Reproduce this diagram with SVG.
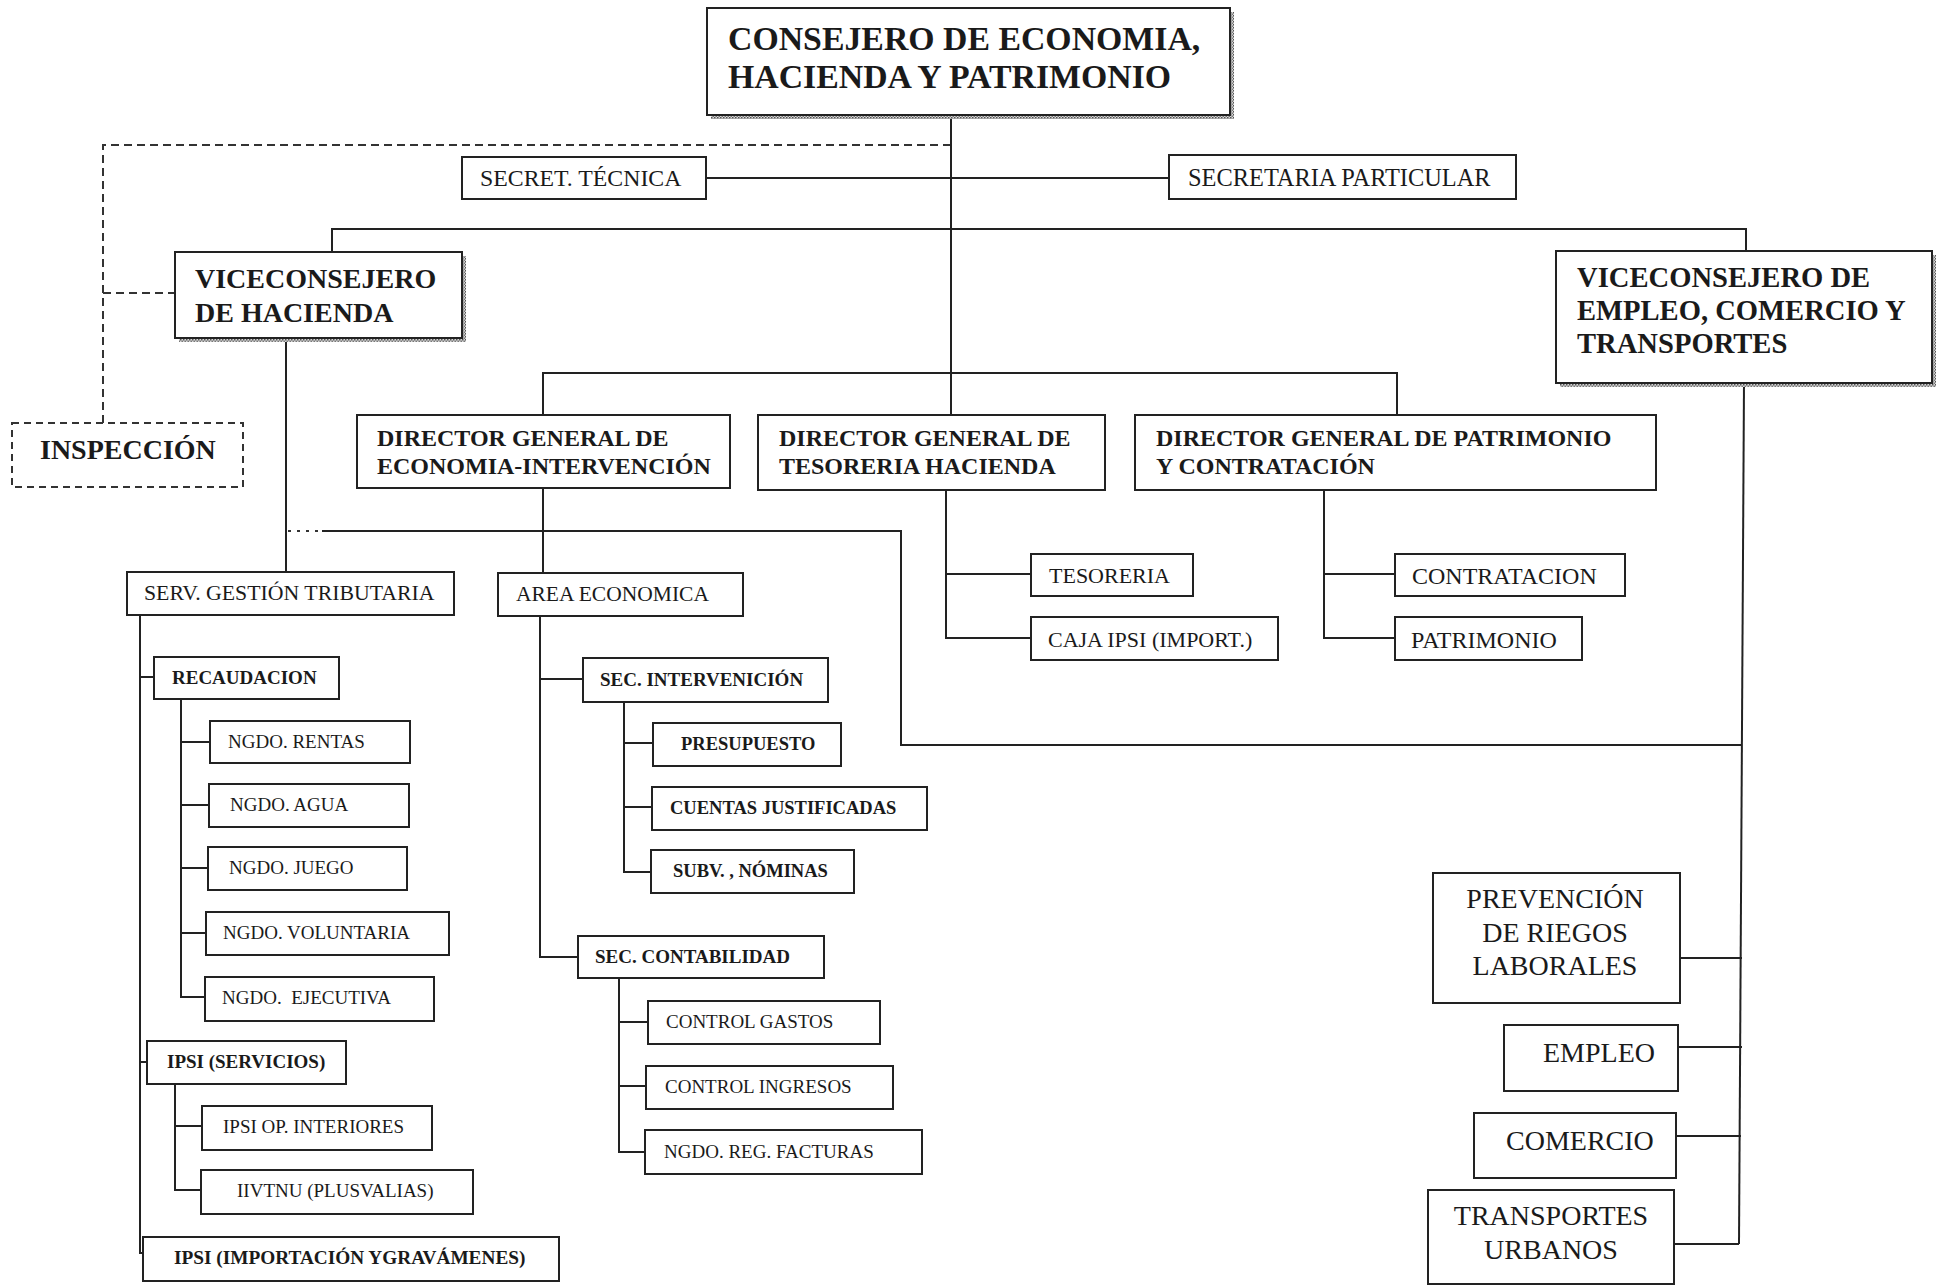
<svg xmlns="http://www.w3.org/2000/svg" width="1936" height="1287" viewBox="0 0 1936 1287">
<defs>
<pattern id="hatch" width="3" height="3" patternUnits="userSpaceOnUse">
<rect width="3" height="3" fill="#d8d8d8"/>
<rect width="1.5" height="1.5" fill="#555"/>
<rect x="1.5" y="1.5" width="1.5" height="1.5" fill="#777"/>
</pattern>
<style>
.box{fill:#fff;stroke:#222;stroke-width:2}
.dbox{fill:#fff;stroke:#333;stroke-width:2;stroke-dasharray:7 5}
.sh{fill:url(#hatch)}
.ln{stroke:#222;stroke-width:2;fill:none}
.dl{stroke:#333;stroke-width:2;fill:none;stroke-dasharray:8 5}
.dot{stroke:#333;stroke-width:2;fill:none;stroke-dasharray:3 6}
text{font-family:"Liberation Serif","Times New Roman",serif;fill:#1a1a1a}
.b{font-weight:bold}
.s19{font-size:19px}
.s22{font-size:22px}
.s24{font-size:24px}
.s28{font-size:28px}
</style>
</defs>
<rect width="1936" height="1287" fill="#fff"/>

<g id="connectors">
<path class="dl" d="M951,145 H103 V423"/>
<path class="dl" d="M103,293 H175"/>
<path class="ln" d="M951,115 V415"/>
<path class="ln" d="M706,178 H1169"/>
<path class="ln" d="M332,251 V229 H1746 V251"/>
<path class="ln" d="M543,415 V373 H1397 V415"/>
<path class="ln" d="M286,338 V572"/>
<path class="dot" d="M288,531 H322"/>
<path class="ln" d="M322,531 H901 V745 H1742"/>
<path class="ln" d="M1744,383 L1739,1244"/>
<path class="ln" d="M1680,958 H1742"/>
<path class="ln" d="M1678,1047 H1742"/>
<path class="ln" d="M1676,1136 H1741"/>
<path class="ln" d="M1674,1244 H1739"/>
<path class="ln" d="M946,490 V638 H1031"/>
<path class="ln" d="M946,574 H1031"/>
<path class="ln" d="M1324,490 V638 H1395"/>
<path class="ln" d="M1324,574 H1395"/>
<path class="ln" d="M543,488 V573"/>
<path class="ln" d="M140,615 V1253 H143"/>
<path class="ln" d="M140,677 H154"/>
<path class="ln" d="M140,1062 H147"/>
<path class="ln" d="M181,699 V997 H205"/>
<path class="ln" d="M181,742 H210"/>
<path class="ln" d="M181,805 H209"/>
<path class="ln" d="M181,868 H208"/>
<path class="ln" d="M181,933 H206"/>
<path class="ln" d="M175,1084 V1190 H201"/>
<path class="ln" d="M175,1126 H202"/>
<path class="ln" d="M540,616 V957 H578"/>
<path class="ln" d="M540,679 H583"/>
<path class="ln" d="M624,702 V872 H651"/>
<path class="ln" d="M624,743 H653"/>
<path class="ln" d="M624,807 H652"/>
<path class="ln" d="M619,978 V1152 H645"/>
<path class="ln" d="M619,1022 H648"/>
<path class="ln" d="M619,1086 H646"/>
</g>

<g id="consejero">
<rect class="sh" x="711" y="12" width="523" height="107"/>
<rect class="box" x="707" y="8" width="523" height="107"/>
<text class="b" x="728" y="50" font-size="33.8">CONSEJERO DE ECONOMIA,</text>
<text class="b" x="728" y="88" font-size="33.8">HACIENDA Y PATRIMONIO</text>
</g>
<g id="secret-tecnica">
<rect class="box" x="462" y="157" width="244" height="42"/>
<text x="480" y="186" font-size="23.8">SECRET. TÉCNICA</text>
</g>
<g id="secretaria-particular">
<rect class="box" x="1169" y="155" width="347" height="44"/>
<text x="1188" y="186" font-size="24.4">SECRETARIA PARTICULAR</text>
</g>
<g id="vice-hacienda">
<rect class="sh" x="179" y="256" width="287" height="86"/>
<rect class="box" x="175" y="252" width="287" height="86"/>
<text class="b s28" x="195" y="288">VICECONSEJERO</text>
<text class="b s28" x="195" y="322">DE HACIENDA</text>
</g>
<g id="vice-empleo">
<rect class="sh" x="1560" y="255" width="376" height="132"/>
<rect class="box" x="1556" y="251" width="376" height="132"/>
<text class="b" x="1577" y="287" font-size="28.6">VICECONSEJERO DE</text>
<text class="b" x="1577" y="320" font-size="28.6">EMPLEO, COMERCIO Y</text>
<text class="b" x="1577" y="353" font-size="28.6">TRANSPORTES</text>
</g>
<g id="inspeccion">
<rect class="dbox" x="12" y="423" width="231" height="64"/>
<text class="b s28" x="40" y="459">INSPECCIÓN</text>
</g>
<g id="dg-economia">
<rect class="box" x="357" y="415" width="373" height="73"/>
<text class="b s24" x="377" y="446">DIRECTOR GENERAL DE</text>
<text class="b s24" x="377" y="474">ECONOMIA-INTERVENCIÓN</text>
</g>
<g id="dg-tesoreria">
<rect class="box" x="758" y="415" width="347" height="75"/>
<text class="b s24" x="779" y="446">DIRECTOR GENERAL DE</text>
<text class="b s24" x="779" y="474">TESORERIA HACIENDA</text>
</g>
<g id="dg-patrimonio">
<rect class="box" x="1135" y="415" width="521" height="75"/>
<text class="b s24" x="1156" y="446">DIRECTOR GENERAL DE PATRIMONIO</text>
<text class="b s24" x="1156" y="474">Y CONTRATACIÓN</text>
</g>
<g id="tesoreria">
<rect class="box" x="1031" y="554" width="162" height="42"/>
<text class="s22" x="1049" y="583">TESORERIA</text>
</g>
<g id="caja-ipsi">
<rect class="box" x="1031" y="617" width="247" height="43"/>
<text class="s22" x="1048" y="647">CAJA IPSI (IMPORT.)</text>
</g>
<g id="contratacion">
<rect class="box" x="1395" y="554" width="230" height="42"/>
<text class="s24" x="1412" y="584">CONTRATACION</text>
</g>
<g id="patrimonio">
<rect class="box" x="1395" y="617" width="187" height="43"/>
<text class="s24" x="1411" y="648">PATRIMONIO</text>
</g>
<g id="serv-gestion">
<rect class="box" x="127" y="572" width="327" height="43"/>
<text x="144" y="600" font-size="21.8">SERV. GESTIÓN TRIBUTARIA</text>
</g>
<g id="area-economica">
<rect class="box" x="498" y="573" width="245" height="43"/>
<text x="516" y="601" font-size="21.5">AREA ECONOMICA</text>
</g>
<g id="recaudacion">
<rect class="box" x="154" y="657" width="185" height="42"/>
<text class="b s19" x="172" y="684">RECAUDACION</text>
</g>
<g id="ngdo-rentas">
<rect class="box" x="210" y="721" width="200" height="42"/>
<text class="s19" x="228" y="748">NGDO. RENTAS</text>
</g>
<g id="ngdo-agua">
<rect class="box" x="209" y="784" width="200" height="43"/>
<text class="s19" x="230" y="811">NGDO. AGUA</text>
</g>
<g id="ngdo-juego">
<rect class="box" x="208" y="847" width="199" height="43"/>
<text class="s19" x="229" y="874">NGDO. JUEGO</text>
</g>
<g id="ngdo-voluntaria">
<rect class="box" x="206" y="912" width="243" height="43"/>
<text class="s19" x="223" y="939">NGDO. VOLUNTARIA</text>
</g>
<g id="ngdo-ejecutiva">
<rect class="box" x="205" y="977" width="229" height="44"/>
<text class="s19" x="222" y="1004" xml:space="preserve">NGDO.  EJECUTIVA</text>
</g>
<g id="ipsi-servicios">
<rect class="box" x="147" y="1041" width="199" height="43"/>
<text class="b s19" x="167" y="1068">IPSI (SERVICIOS)</text>
</g>
<g id="ipsi-op-interiores">
<rect class="box" x="202" y="1106" width="230" height="44"/>
<text class="s19" x="223" y="1133">IPSI OP. INTERIORES</text>
</g>
<g id="iivtnu">
<rect class="box" x="201" y="1170" width="272" height="44"/>
<text class="s19" x="237" y="1197">IIVTNU (PLUSVALIAS)</text>
</g>
<g id="ipsi-importacion">
<rect class="box" x="143" y="1237" width="416" height="44"/>
<text class="b" x="174" y="1264" font-size="19.3">IPSI (IMPORTACIÓN YGRAVÁMENES)</text>
</g>
<g id="sec-intervencion">
<rect class="box" x="583" y="658" width="245" height="44"/>
<text class="b s19" x="600" y="686">SEC. INTERVENICIÓN</text>
</g>
<g id="presupuesto">
<rect class="box" x="653" y="723" width="188" height="43"/>
<text class="b" x="681" y="750" font-size="18.5">PRESUPUESTO</text>
</g>
<g id="cuentas-justificadas">
<rect class="box" x="652" y="787" width="275" height="43"/>
<text class="b" x="670" y="814" font-size="18.5">CUENTAS JUSTIFICADAS</text>
</g>
<g id="subv-nominas">
<rect class="box" x="651" y="850" width="203" height="43"/>
<text class="b" x="673" y="877" font-size="18.5">SUBV. , NÓMINAS</text>
</g>
<g id="sec-contabilidad">
<rect class="box" x="578" y="936" width="246" height="42"/>
<text class="b s19" x="595" y="963">SEC. CONTABILIDAD</text>
</g>
<g id="control-gastos">
<rect class="box" x="648" y="1001" width="232" height="43"/>
<text class="s19" x="666" y="1028">CONTROL GASTOS</text>
</g>
<g id="control-ingresos">
<rect class="box" x="646" y="1066" width="247" height="43"/>
<text class="s19" x="665" y="1093">CONTROL INGRESOS</text>
</g>
<g id="ngdo-reg-facturas">
<rect class="box" x="645" y="1130" width="277" height="44"/>
<text class="s19" x="664" y="1158">NGDO. REG. FACTURAS</text>
</g>
<g id="prevencion">
<rect class="box" x="1433" y="873" width="247" height="130"/>
<text class="s28" x="1555" y="908" text-anchor="middle">PREVENCIÓN</text>
<text class="s28" x="1555" y="942" text-anchor="middle">DE RIEGOS</text>
<text class="s28" x="1555" y="975" text-anchor="middle">LABORALES</text>
</g>
<g id="empleo">
<rect class="box" x="1504" y="1025" width="174" height="66"/>
<text class="s28" x="1543" y="1062">EMPLEO</text>
</g>
<g id="comercio">
<rect class="box" x="1474" y="1113" width="202" height="65"/>
<text class="s28" x="1506" y="1150">COMERCIO</text>
</g>
<g id="transportes-urbanos">
<rect class="box" x="1428" y="1190" width="246" height="94"/>
<text class="s28" x="1551" y="1225" text-anchor="middle">TRANSPORTES</text>
<text class="s28" x="1551" y="1259" text-anchor="middle">URBANOS</text>
</g>
</svg>
